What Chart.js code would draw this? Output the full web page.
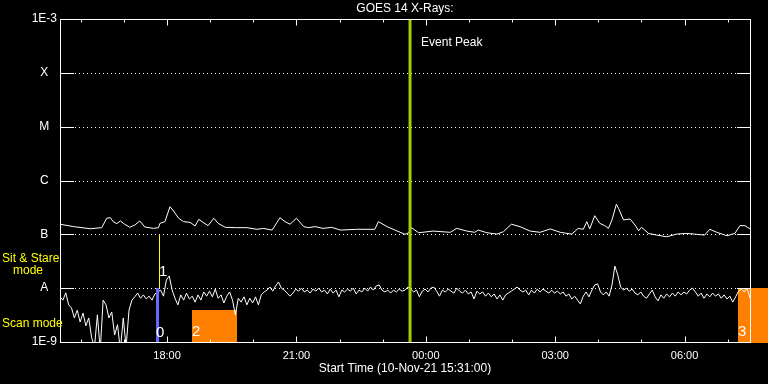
<!DOCTYPE html>
<html><head><meta charset="utf-8">
<script src="https://cdn.jsdelivr.net/npm/chart.js@4.4.1/dist/chart.umd.min.js"></script>
<style>html,body{margin:0;padding:0;background:#000;overflow:hidden}canvas{display:block}</style>
</head><body>
<canvas id="c" width="768" height="384"></canvas>
<script>
// ---- data ----
const START_TIME = '15:31';
const END_TIME = '07:31';
const FLUX_UNIT = 1e-9; // values below are in units of 1e-9 W/m^2

// long-wavelength channel (upper curve): minutes after start, flux
const longMinutes = [0,19,42,58,65,70,74,79,84,90,97,104,111,118,130,137,139,146,153,158,165,172,181,188,193,199,206,214,220,230,246,260,274,283,295,302,306,313,320,329,339,346,355,366,378,390,413,438,443,455,468,480,485,489,499,519,543,552,566,577,582,594,608,617,628,640,654,668,682,696,712,721,728,733,737,744,751,758,763,768,774,777,784,793,800,805,809,819,830,844,858,872,886,897,904,914,928,939,946,953,960];
const longFlux = [154,139,127,133,199,204,172,158,177,154,135,149,177,137,129,133,160,172,326,271,199,172,167,143,190,167,145,199,160,135,133,133,124,129,120,167,204,172,154,199,139,133,139,129,135,120,124,124,172,139,117,100,107,133,107,115,109,129,115,109,120,107,101,112,154,139,115,109,126,109,101,129,124,172,126,222,160,145,129,185,361,305,185,193,149,117,135,104,97,90,101,104,100,97,124,109,94,104,145,145,126];

// short-wavelength channel (lower curve): one sample every 4 minutes from start
const SHORT_STEP_MIN = 4;
const shortFlux = [
 6.9,6.0,8.2,4.9,4.3,2.8,3.9,2.35,3.45,2.0,
 2.8,1.2,0.8,3.2,0.7,6.0,4.9,2.8,3.6,1.35,
 2.1,0.7,2.8,0.8,3.9,6.0,6.9,8.1,6.5,7.5,
 6.3,7.1,6.0,7.8,8.5,9.2,7.1,14.2,16.8,9.2,
 6.5,4.9,7.5,6.0,8.1,6.3,7.1,5.5,7.5,6.0,
 8.5,7.1,8.8,6.9,9.6,6.5,7.5,5.3,7.1,8.5,
 6.0,3.2,6.5,5.5,6.9,4.9,6.5,5.3,6.9,4.9,
 7.5,8.5,9.2,10.5,8.8,11,13,10,9.2,8.1,
 7.1,8.1,9.6,8.8,10,8.5,9.2,8.1,9.6,8.8,
 10,8.5,9.2,7.8,9.6,8.1,9.2,6.9,9.2,8.5,
 9.6,8.8,10,7.8,9.2,8.5,10,8.8,10.5,9.2,
 11,11.5,9.2,8.5,9.2,8.1,9.2,8.5,9.6,8.8,
 9.2,10.5,9.6,8.5,9.2,6.9,8.8,9.6,8.5,10,
 10.5,8.8,7.1,9.2,8.5,9.6,8.8,8.1,10,8.8,
 8.1,9.2,7.8,8.5,6.3,8.8,7.8,8.5,7.1,8.1,
 6.9,7.8,6.3,7.5,6.0,7.5,8.1,8.8,9.6,10.5,
 9.2,8.5,9.2,7.5,9.2,8.1,9.6,8.5,9.6,8.8,
 8.1,9.2,8.1,8.8,7.8,8.5,7.1,7.8,6.3,7.1,
 6.0,5.1,7.1,8.5,6.9,9.2,11.5,12,8.5,7.5,
 8.5,7.1,11.5,25.7,17.6,10.5,9.2,10,8.8,9.6,
 8.1,7.5,8.5,7.1,6.5,7.8,9.2,6.9,5.8,7.5,
 6.5,7.8,6.9,8.1,7.1,8.5,7.5,8.5,7.8,9.2,
 10,8.5,7.1,8.1,6.5,7.8,6.9,8.1,7.1,7.8,
 6.5,7.5,6.3,7.1,5.5,6.9,8.8,9.6,8.5,10,6.5];

const yTickValues = [1e-9,1e-8,1e-7,1e-6,1e-5,1e-4,1e-3];
const yTickLabels = ['1E-9','A','B','C','M','X','1E-3'];
const hourTicks = ['16:00','17:00','18:00','19:00','20:00','21:00','22:00','23:00','00:00','01:00','02:00','03:00','04:00','05:00','06:00','07:00'];
const xTickLabels = ['18:00','21:00','00:00','03:00','06:00'];
const eventPeakTime = '23:38';
// instrument-mode markers
const scanMarker = {label:'0', from:'17:45', to:'17:49', top:1e-8};
const stareMarker = {label:'1', at:'17:49', from:1e-8, to:1e-7};
const statusBlocks = [
  {label:'2', from:'18:35', to:'19:37', top:4e-9},
  {label:'3', from:'07:14', to:'07:57', top:1e-8}
];

// ---- helpers ----
function toMin(t){
  const [h,m] = t.split(':').map(Number);
  const [sh,sm] = START_TIME.split(':').map(Number);
  let d = h*60+m - (sh*60+sm);
  if (d < 0) d += 1440;
  return d;
}
const FONT = '"Liberation Sans", Arial, sans-serif';
const WHITE = '#ffffff';
const YELLOW = '#ffff00';
const ORANGE = '#ff8000';
const BLUE = '#6868ff';
const GREEN = '#a2cf00';

const longData = longMinutes.map((t,i)=>({x:t, y:longFlux[i]*FLUX_UNIT}));
const shortData = shortFlux.map((v,i)=>({x:i*SHORT_STEP_MIN, y:v*FLUX_UNIT}));
const hourTickMins = hourTicks.map(toMin);
const majorMins = xTickLabels.map(toMin);

const decor = {
  id:'decor',
  beforeDraw(chart){
    const c = chart.ctx; c.save(); c.fillStyle='#000'; c.fillRect(0,0,chart.width,chart.height); c.restore();
  },
  beforeDatasetsDraw(chart){
    const {ctx, chartArea:a, scales:{x,y}} = chart;
    ctx.save();
    ctx.fillStyle = ORANGE;
    for (const b of statusBlocks){
      const x0 = x.getPixelForValue(toMin(b.from)), x1 = x.getPixelForValue(toMin(b.to));
      const yt = y.getPixelForValue(b.top);
      ctx.fillRect(Math.round(x0), Math.round(yt), Math.round(x1)-Math.round(x0), a.bottom - Math.round(yt) + 1);
    }
    ctx.strokeStyle = WHITE; ctx.lineWidth = 1; ctx.setLineDash([1,3]);
    for (const v of yTickValues.slice(1,-1)){
      const py = Math.round(y.getPixelForValue(v)) + 0.5;
      ctx.beginPath(); ctx.moveTo(a.left+15, py); ctx.lineTo(a.right-13, py); ctx.stroke();
    }
    ctx.restore();
  },
  afterDatasetsDraw(chart){
    const {ctx, chartArea:a, scales:{x,y}} = chart;
    ctx.save();
    ctx.fillStyle = BLUE;
    const bx0 = Math.round(x.getPixelForValue(toMin(scanMarker.from))), bx1 = Math.round(x.getPixelForValue(toMin(scanMarker.to)));
    const byt = Math.round(y.getPixelForValue(scanMarker.top));
    ctx.fillRect(bx0, byt, bx1-bx0, a.bottom-byt);
    ctx.strokeStyle = YELLOW; ctx.lineWidth = 1;
    const sx = Math.round(x.getPixelForValue(toMin(stareMarker.at))) + 0.5;
    ctx.beginPath(); ctx.moveTo(sx, y.getPixelForValue(stareMarker.to)); ctx.lineTo(sx, y.getPixelForValue(stareMarker.from)); ctx.stroke();
    ctx.strokeStyle = GREEN; ctx.lineWidth = 3;
    const ex = x.getPixelForValue(toMin(eventPeakTime));
    ctx.beginPath(); ctx.moveTo(ex, a.top); ctx.lineTo(ex, a.bottom); ctx.stroke();
    ctx.strokeStyle = WHITE; ctx.lineWidth = 1;
    ctx.strokeRect(a.left+0.5, a.top+0.5, a.right-a.left, a.bottom-a.top);
    for (const v of yTickValues){
      const py = Math.round(y.getPixelForValue(v)) + 0.5;
      ctx.beginPath();
      ctx.moveTo(a.left, py); ctx.lineTo(a.left+14, py);
      ctx.moveTo(a.right-13, py); ctx.lineTo(a.right+1, py);
      ctx.stroke();
    }
    for (const m of hourTickMins){
      const px = Math.round(x.getPixelForValue(m)) + 0.5;
      const len = majorMins.includes(m) ? 6 : 3;
      ctx.beginPath();
      ctx.moveTo(px, a.bottom+0.5); ctx.lineTo(px, a.bottom+0.5-len);
      ctx.moveTo(px, a.top+0.5); ctx.lineTo(px, a.top+0.5+len);
      ctx.stroke();
    }
    ctx.textBaseline = 'middle'; ctx.textAlign = 'left';
    ctx.fillStyle = WHITE; ctx.font = '12px ' + FONT;
    ctx.fillText('Event Peak', ex + 11, a.top + 24);
    ctx.font = '15px ' + FONT;
    ctx.fillText(scanMarker.label, bx0, a.bottom - 9.5);
    ctx.fillText(stareMarker.label, sx - 0.5, y.getPixelForValue(stareMarker.from) - 16.5);
    for (const b of statusBlocks){
      ctx.fillText(b.label, Math.round(x.getPixelForValue(toMin(b.from))), a.bottom - 10.5);
    }
    ctx.fillStyle = YELLOW; ctx.font = '12px ' + FONT;
    ctx.fillText('Sit & Stare', 2, 259);
    ctx.fillText('mode', 13, 271);
    ctx.fillText('Scan mode', 2, 324);
    ctx.restore();
  }
};

new Chart(document.getElementById('c'), {
  type:'line',
  data:{datasets:[
    {data:longData, borderColor:WHITE, borderWidth:1, pointRadius:0, tension:0, fill:false},
    {data:shortData, borderColor:WHITE, borderWidth:1, pointRadius:0, tension:0, fill:false}
  ]},
  options:{
    responsive:false, animation:false, devicePixelRatio:1,
    layout:{padding:{left:0, right:18, top:0, bottom:0}},
    plugins:{
      legend:{display:false}, tooltip:{enabled:false},
      title:{display:true, text:'GOES 14 X-Rays:', color:WHITE, fullSize:false,
             font:{family:FONT, size:12, weight:'normal', lineHeight:1}, padding:{top:3, bottom:4}}
    },
    scales:{
      x:{type:'linear', min:0, max:toMin(END_TIME),
         grid:{display:false, drawTicks:false}, border:{display:false},
         afterBuildTicks:(s)=>{ s.ticks = hourTickMins.map(v=>({value:v})); },
         afterFit:(s)=>{ s.height = 42; },
         ticks:{color:WHITE, autoSkip:false, maxRotation:0, padding:7, font:{family:FONT, size:11},
                callback:(v)=>{ const i = majorMins.indexOf(v); return i>=0 ? xTickLabels[i] : ''; }},
         title:{display:true, text:'Start Time (10-Nov-21 15:31:00)', color:WHITE,
                font:{family:FONT, size:12}, padding:{top:0, bottom:8}}
      },
      y:{type:'logarithmic', min:1e-9, max:1e-3,
         grid:{display:false, drawTicks:false}, border:{display:false},
         afterBuildTicks:(s)=>{ s.ticks = yTickValues.map(v=>({value:v})); },
         afterFit:(s)=>{ s.width = 60; },
         ticks:{color:WHITE, crossAlign:'center', padding:3, font:{family:FONT, size:12},
                callback:(v)=>{ const i = yTickValues.findIndex(t=>Math.abs(Math.log10(t)-Math.log10(v))<1e-6); return i>=0 ? yTickLabels[i] : ''; }}
      }
    }
  },
  plugins:[decor]
});
</script>
</body></html>
